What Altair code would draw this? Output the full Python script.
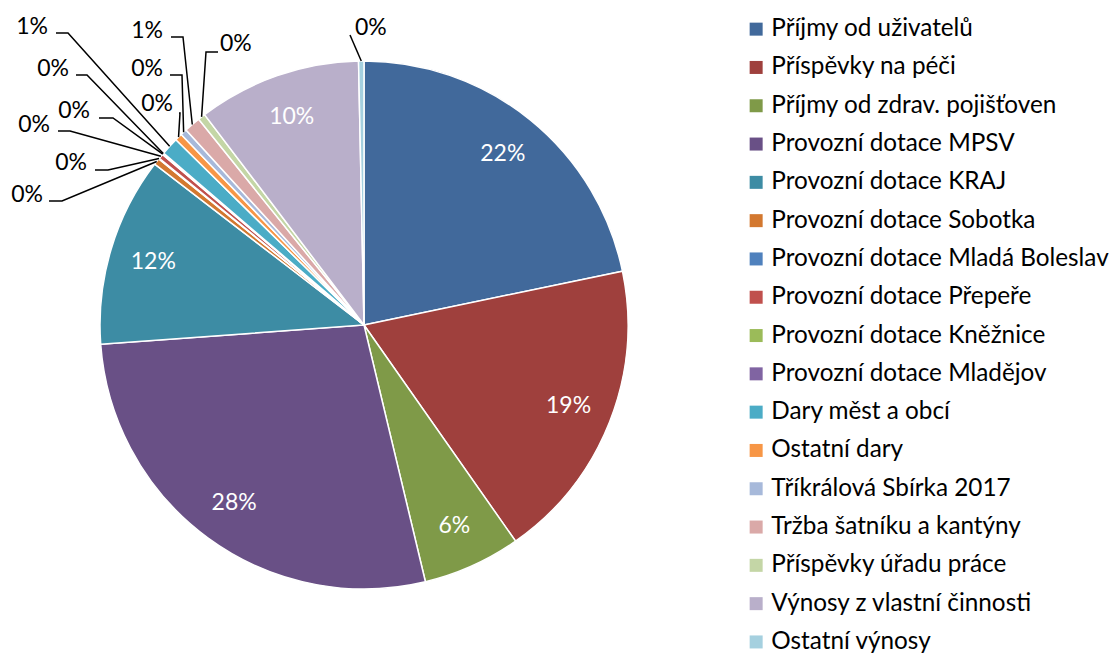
import math
import altair as alt
import pandas as pd

# ---------------- data ----------------
categories = [
    "Příjmy od uživatelů",
    "Příspěvky na péči",
    "Příjmy od zdrav. pojišťoven",
    "Provozní dotace MPSV",
    "Provozní dotace KRAJ",
    "Provozní dotace Sobotka",
    "Provozní dotace Mladá Boleslav",
    "Provozní dotace Přepeře",
    "Provozní dotace Kněžnice",
    "Provozní dotace Mladějov",
    "Dary měst a obcí",
    "Ostatní dary",
    "Tříkrálová Sbírka 2017",
    "Tržba šatníku a kantýny",
    "Příspěvky úřadu práce",
    "Výnosy z vlastní činnosti",
    "Ostatní výnosy",
]
shares = [21.75, 18.55, 6.0, 27.6, 11.6, 0.4, 0.05, 0.3, 0.05, 0.05,
          1.1, 0.45, 0.4, 1.0, 0.45, 10.0, 0.33]
colors = [
    "#41699B", "#9F403D", "#7F9A48", "#695086", "#3D8CA4", "#D3782F",
    "#4F81BD", "#C0504D", "#9BBB59", "#8064A2", "#4BACC6", "#F79646",
    "#A7B9DA", "#DAA9A8", "#C4D6A6", "#B9AFCA", "#A5D0DF",
]
inside_idx = [0, 1, 2, 3, 4, 15]

# ---------------- layout ----------------
M = 8                      # page margin
W, H = 1104, 645           # chart size
CX, CY, R = 364 - M, 325 - M, 264
LABEL_R = 220
FONT = "Lato"

# outside label layout (page coords): idx, text x, text y, align, start, elbow
LABEL_LAYOUT = [
    (5, 43, 195, "right", (49, 201), (62, 201)),
    (6, 87, 163, "right", (95, 170), (108, 170)),
    (7, 50, 125, "right", (58, 131), (70, 131)),
    (8, 90, 111, "right", (99, 118), (113, 118)),
    (9, 69, 69, "right", (76, 75), (87, 75)),
    (10, 48, 27, "right", (56, 33), (68, 33)),
    (11, 173, 104, "right", (179, 113), (180, 113)),
    (12, 163, 69, "right", (170, 75), (182, 75)),
    (13, 163, 31, "right", (171, 37), (183, 37)),
    (14, 220, 44, "left", (218, 52), (206, 52)),
    (16, 355, 28, "left", (350, 35), (350, 35)),
]

total = sum(shares)
labels = [f"{int(math.floor(s / total * 100 + 0.5))}%" for s in shares]

df = pd.DataFrame({
    "cat": categories,
    "share": shares,
    "idx": list(range(len(categories))),
    "inside": [labels[i] if i in inside_idx else "" for i in range(len(categories))],
})

# mid angle of each slice (clockwise from 12 o'clock)
cum = 0.0
mid_angle = []
for s in shares:
    mid_angle.append((cum + s / 2) / total * 2 * math.pi)
    cum += s

line_rows, text_rows = [], []
for idx, tx, ty, al, st, el in LABEL_LAYOUT:
    a = mid_angle[idx]
    ex = CX + R * math.sin(a)
    ey = CY - R * math.cos(a)
    pts = [(st[0] - M, st[1] - M), (el[0] - M, el[1] - M), (ex, ey)]
    for k, (px, py) in enumerate(pts):
        line_rows.append({"lid": idx, "pt": k, "x": px, "y": py})
    text_rows.append({"x": tx - M, "y": ty - M, "align": al, "label": labels[idx]})

lines_df = pd.DataFrame(line_rows)
texts_df = pd.DataFrame(text_rows)

xs = alt.Scale(domain=[0, W], range=[0, W], nice=False, zero=False)
ys = alt.Scale(domain=[0, H], range=[0, H], nice=False, zero=False)

legend = alt.Legend(
    orient="none", legendX=750 - M - 6, legendY=9, title=None,
    symbolType="square", symbolSize=169, symbolStrokeWidth=0,
    labelFont=FONT, labelFontSize=24.3, labelLimit=600, labelColor="#000000",
    rowPadding=13.3, labelOffset=3, padding=0,
)

arcs = alt.Chart(df).mark_arc(outerRadius=R, stroke="white", strokeWidth=1.5).encode(
    theta=alt.Theta("share:Q", stack=True),
    color=alt.Color("cat:N", scale=alt.Scale(domain=categories, range=colors),
                    sort=categories, legend=legend),
    order=alt.Order("idx:Q"),
    x=alt.value(CX),
    y=alt.value(CY),
)

inside_text = alt.Chart(df).mark_text(
    radius=LABEL_R, font=FONT, fontSize=23, color="white"
).encode(
    theta=alt.Theta("share:Q", stack=True),
    order=alt.Order("idx:Q"),
    text=alt.Text("inside:N"),
    x=alt.value(CX),
    y=alt.value(CY),
)

leaders = alt.Chart(lines_df).mark_line(color="black", strokeWidth=1.5).encode(
    x=alt.X("x:Q", scale=xs, axis=None),
    y=alt.Y("y:Q", scale=ys, axis=None),
    detail="lid:N",
    order="pt:Q",
)

out_right = alt.Chart(texts_df).transform_filter(alt.datum.align == "right").mark_text(
    align="right", baseline="middle", font=FONT, fontSize=23, color="black"
).encode(x=alt.X("x:Q", scale=xs, axis=None), y=alt.Y("y:Q", scale=ys, axis=None), text="label:N")

out_left = alt.Chart(texts_df).transform_filter(alt.datum.align == "left").mark_text(
    align="left", baseline="middle", font=FONT, fontSize=23, color="black"
).encode(x=alt.X("x:Q", scale=xs, axis=None), y=alt.Y("y:Q", scale=ys, axis=None), text="label:N")

chart = alt.layer(arcs, inside_text, leaders, out_right, out_left).properties(
    width=W, height=H, padding=0,
    autosize=alt.AutoSizeParams(type="none"),
).configure_view(stroke=None)

chart.save("out.html", embed_options={"renderer": "svg", "actions": False})
